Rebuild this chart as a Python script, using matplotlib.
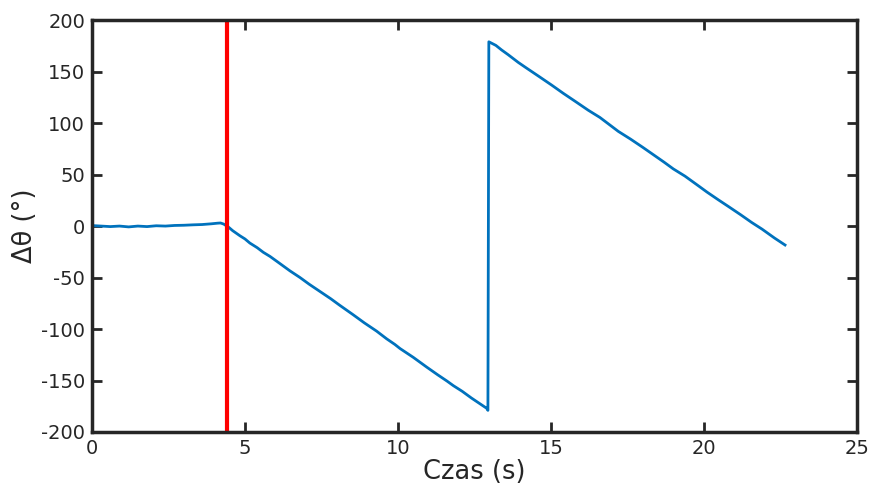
import matplotlib
matplotlib.use('Agg')
import matplotlib.pyplot as plt

plt.rcParams['axes.unicode_minus'] = False

# czas (s) i kat (deg)
t_rest = [0.0, 0.3, 0.6, 0.9, 1.2, 1.5, 1.8, 2.1, 2.4, 2.7, 3.0, 3.3, 3.6, 3.9, 4.1, 4.2, 4.3]
d_rest = [0.5, 0.0, -0.5, 0.0, -0.8, 0.0, -0.5, 0.3, 0.0, 0.6, 0.8, 1.2, 1.5, 2.2, 2.8, 3.0, 2.0]

t_fall = [4.45, 4.6, 4.84, 5.0, 5.16, 5.4, 5.6, 5.82, 6.1, 6.47, 6.8, 7.1, 7.45, 7.8, 8.1,
          8.53, 8.9, 9.3, 9.63, 9.9, 10.07, 10.5, 10.94, 11.3, 11.6, 11.81, 12.1, 12.4,
          12.7, 12.90, 12.94]
d_fall = [-0.7, -4.5, -9.5, -12.5, -16.5, -21.0, -25.5, -29.5, -35.5, -43.5, -50.0, -56.5,
          -63.5, -70.5, -77.0, -86.0, -94.0, -102.0, -109.5, -115.0, -119.0, -127.5, -137.0,
          -144.5, -150.5, -155.0, -160.5, -167.0, -173.0, -177.0, -179.0]

t_wrap = [12.97, 13.2, 13.39, 13.6, 13.93, 14.2, 14.6, 15.02, 15.4, 15.8, 16.22, 16.6, 17.0,
          17.2, 17.6, 18.0, 18.29, 18.7, 19.0, 19.38, 19.8, 20.1, 20.47, 20.8, 21.2, 21.56,
          21.9, 22.3, 22.65]
d_wrap = [179.0, 175.5, 171.0, 166.5, 159.0, 153.5, 145.5, 137.0, 129.0, 121.0, 112.5, 105.5,
          96.5, 92.0, 84.5, 76.5, 70.5, 62.0, 55.5, 48.5, 39.5, 33.0, 25.5, 19.0, 11.0, 3.5,
          -3.0, -11.5, -18.4]

t_marker = 4.42

t = t_rest + t_fall + t_wrap
d = d_rest + d_fall + d_wrap

dark = '#262626'
fig = plt.figure(figsize=(8.7, 4.92), dpi=100)
ax = fig.add_axes([0.1057, 0.122, 0.8793, 0.837])

ax.plot(t, d, color='#0072BD', lw=2.0)
ax.axvline(t_marker, color='#FF0000', lw=3.0)

ax.set_xlim(0, 25)
ax.set_ylim(-200, 200)
ax.set_xticks([0, 5, 10, 15, 20, 25])
ax.set_yticks(range(-200, 201, 50))
ax.tick_params(direction='in', length=7, width=2.0, colors=dark,
               labelsize=14, top=True, right=True, pad=5)
for s in ax.spines.values():
    s.set_linewidth(2.5)
    s.set_color(dark)

ax.set_xlabel('Czas (s)', fontsize=18.5, color=dark, labelpad=1)
ax.set_ylabel('Δθ (°)', fontsize=18.5, color=dark, labelpad=2)

fig.savefig('out.png', dpi=100)
